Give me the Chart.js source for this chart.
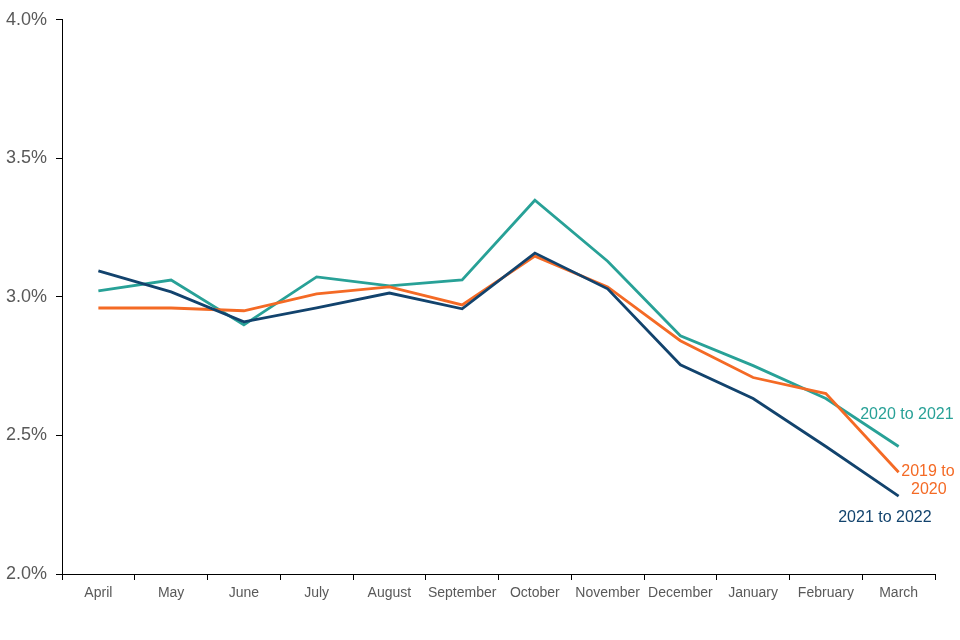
<!DOCTYPE html>
<html><head><meta charset="utf-8">
<script src="https://cdn.jsdelivr.net/npm/chart.js@4/dist/chart.umd.min.js"></script>
<style>html,body{margin:0;padding:0;background:#fff}#wrap{width:960px;height:640px}</style>
</head><body><div id="wrap"><canvas id="c"></canvas></div>
<script>
const months = ["April","May","June","July","August","September","October","November","December","January","February","March"];
const s2019 = [2.960,2.960,2.950,3.011,3.036,2.971,3.147,3.036,2.842,2.709,2.651,2.367];
const s2020 = [3.022,3.061,2.899,3.072,3.040,3.061,3.349,3.129,2.860,2.752,2.633,2.460];
const s2021 = [3.094,3.018,2.910,2.960,3.014,2.957,3.158,3.029,2.755,2.633,2.460,2.281];
const yTicks = [2.0,2.5,3.0,3.5,4.0];
const seriesNames = ["2019 to 2020","2020 to 2021","2021 to 2022"];
const colors = ["#F46A25","#28A197","#12436D"];

const endLabels = {
  id:'endLabels',
  afterDatasetsDraw(chart){
    const ctx = chart.ctx;
    const x = chart.scales.x, y = chart.scales.y;
    const last = months.length-1;
    ctx.save();
    ctx.font = '16px "Liberation Sans", Arial, sans-serif';
    ctx.textBaseline = 'middle';
    let px = x.getPixelForValue(last), py = y.getPixelForValue(s2020[last]);
    ctx.fillStyle = colors[1]; ctx.textAlign='right';
    ctx.fillText(seriesNames[1], px+55, py-32);
    py = y.getPixelForValue(s2019[last]);
    ctx.fillStyle = colors[0]; ctx.textAlign='right';
    ctx.fillText("2019 to", px+56, py-1);
    ctx.fillText("2020", px+48, py+17);
    py = y.getPixelForValue(s2021[last]);
    ctx.fillStyle = colors[2]; ctx.textAlign='right';
    ctx.fillText(seriesNames[2], px+33, py+21);
    ctx.restore();
  }
};

new Chart(document.getElementById('c'), {
  type:'line',
  data:{
    labels: months,
    datasets:[
      {label:seriesNames[2], data:s2021, borderColor:colors[2], backgroundColor:colors[2], borderWidth:2.8, pointRadius:0, tension:0},
      {label:seriesNames[0], data:s2019, borderColor:colors[0], backgroundColor:colors[0], borderWidth:2.8, pointRadius:0, tension:0},
      {label:seriesNames[1], data:s2020, borderColor:colors[1], backgroundColor:colors[1], borderWidth:2.8, pointRadius:0, tension:0}
    ]
  },
  options:{
    responsive:true, maintainAspectRatio:false, animation:false,
    layout:{padding:{top:18,right:25,bottom:0,left:0}},
    plugins:{legend:{display:false}, tooltip:{enabled:false}},
    scales:{
      x:{
        offset:true,
        grid:{display:true, drawOnChartArea:false, offset:true, tickLength:6, color:'#000', lineWidth:1},
        border:{display:true,color:'#000',width:1},
        ticks:{color:'#595959', font:{size:14, family:'"Liberation Sans", Arial, sans-serif'}, padding:5, maxRotation:0, autoSkip:false},
        afterFit(s){ s.height = 66; }
      },
      y:{
        min:2.0, max:4.0,
        afterBuildTicks(s){ s.ticks = yTicks.map(v=>({value:v})); },
        grid:{display:true, drawOnChartArea:false, tickLength:6, color:'#000', lineWidth:1},
        border:{display:true,color:'#000',width:1},
        ticks:{color:'#595959', font:{size:18, family:'"Liberation Sans", Arial, sans-serif'}, padding:9,
          callback:v=>Number(v).toFixed(1)+'%'},
        afterFit(s){ s.width = 62; }
      }
    }
  },
  plugins:[endLabels]
});
</script></body></html>
